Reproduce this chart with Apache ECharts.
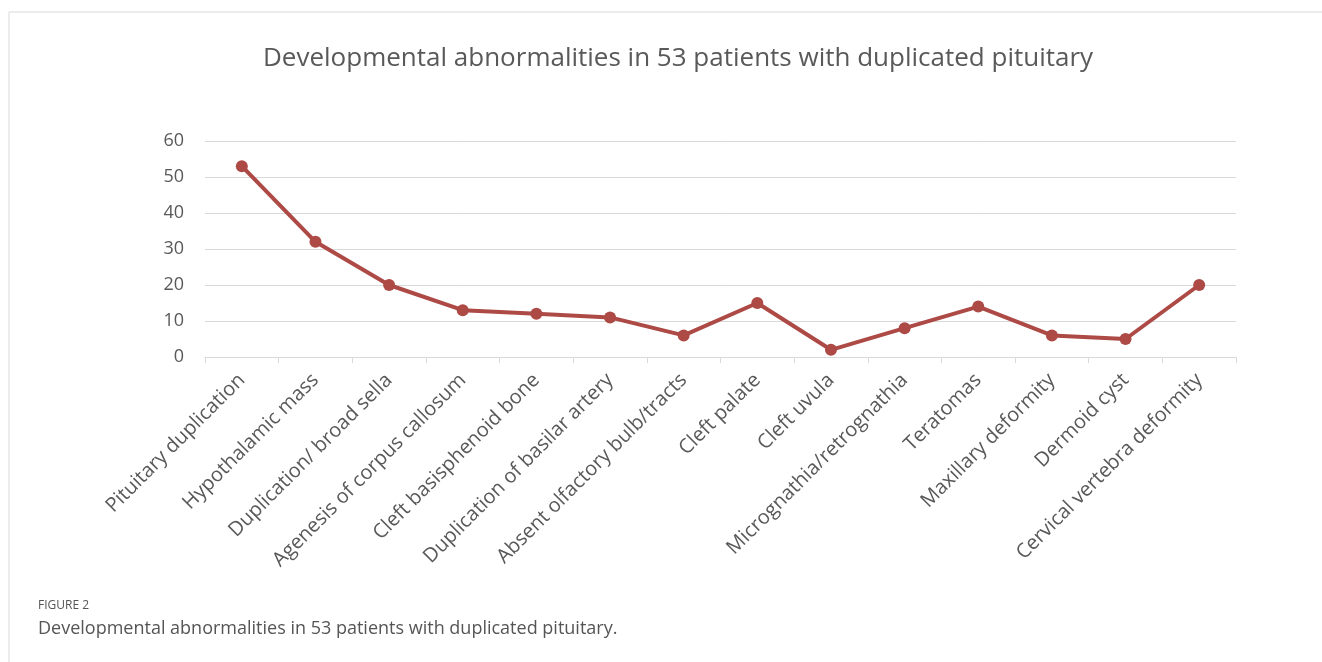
<!DOCTYPE html>
<html><head><meta charset="utf-8">
<script src="https://cdn.jsdelivr.net/npm/echarts@6/dist/echarts.min.js"></script>
<style>html,body{margin:0;padding:0;background:#fff}#c{width:1322px;height:662px}</style>
</head><body><div id="c"></div>
<script>
const categories = ["Pituitary duplication","Hypothalamic mass","Duplication/ broad sella","Agenesis of corpus callosum","Cleft basisphenoid bone","Duplication of basilar artery","Absent olfactory bulb/tracts","Cleft palate","Cleft uvula","Micrognathia/retrognathia","Teratomas","Maxillary deformity","Dermoid cyst","Cervical vertebra deformity"];
const values = [53, 32, 20, 13, 12, 11, 6, 15, 2, 8, 14, 6, 5, 20];
const titleText = "Developmental abnormalities in 53 patients with duplicated pituitary";
const figLabel = "FIGURE 2";
const captionText = "Developmental abnormalities in 53 patients with duplicated pituitary.";

const FF = '"Open Sans", sans-serif';
const chart = echarts.init(document.getElementById('c'), null, {renderer: 'canvas'});
chart.setOption({
  backgroundColor: '#fff',
  animation: false,
  title: {
    text: titleText, left: 258, top: 41,
    textStyle: {fontFamily: FF, fontSize: 26, fontWeight: 'normal', color: '#595959'}
  },
  grid: {left: 205, right: 86, top: 141, bottom: 305, containLabel: false},
  xAxis: {
    type: 'category', data: categories, boundaryGap: true,
    axisLine: {lineStyle: {color: '#d9d9d9', width: 1}},
    axisTick: {show: true, length: 6, lineStyle: {color: '#d9d9d9'}},
    axisLabel: {rotate: 45, interval: 0, margin: 20, fontFamily: FF, fontSize: 20, color: '#595959'}
  },
  yAxis: {
    type: 'value', min: 0, max: 60, interval: 10,
    axisLine: {show: false}, axisTick: {show: false},
    splitLine: {lineStyle: {color: '#d9d9d9', width: 1}},
    axisLabel: {margin: 21, fontFamily: FF, fontSize: 18, color: '#595959'}
  },
  series: [{
    type: 'line', data: values,
    symbol: 'circle', symbolSize: 12,
    lineStyle: {color: '#ad4a46', width: 4},
    itemStyle: {color: '#ad4a46'}
  }],
  graphic: [
    {type: 'line', shape: {x1: 9, y1: 12, x2: 1322, y2: 12}, style: {stroke: '#d9d9d9', lineWidth: 1}},
    {type: 'line', shape: {x1: 9, y1: 12, x2: 9, y2: 662}, style: {stroke: '#d9d9d9', lineWidth: 1}},
    {type: 'text', left: 38, top: 600, style: {text: figLabel, font: '12px "Open Sans"', fill: '#555'}},
    {type: 'text', left: 38, top: 620, style: {text: captionText, font: '18px "Open Sans"', fill: '#555'}}
  ]
});
</script></body></html>
